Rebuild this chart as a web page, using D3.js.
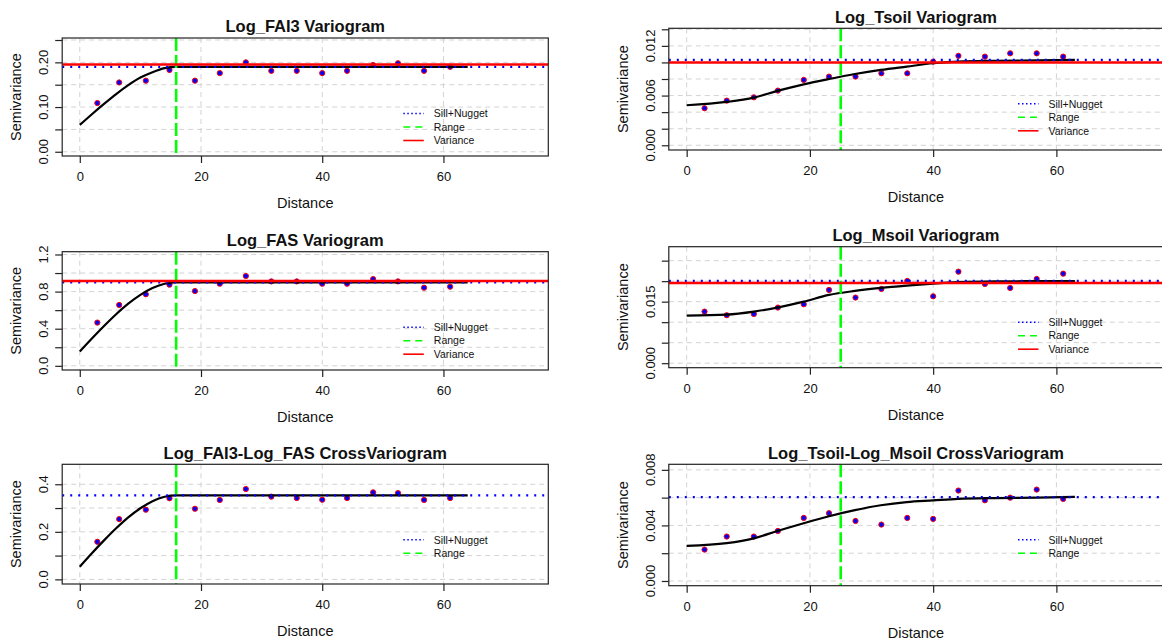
<!DOCTYPE html>
<html><head><meta charset="utf-8">
<script src="https://cdn.jsdelivr.net/npm/d3@7"></script>
<style>
body{margin:0;background:#fff}
svg{display:block}
text{font-family:"Liberation Sans",Arial,sans-serif;fill:#111}
</style>
</head><body>
<svg id="chart" width="1162" height="641"></svg>
<script>
// ---------------- DATA ----------------
const titles = ["Log_FAI3 Variogram","Log_Tsoil Variogram","Log_FAS Variogram","Log_Msoil Variogram","Log_FAI3-Log_FAS CrossVariogram","Log_Tsoil-Log_Msoil CrossVariogram"];
const xTickValues = [0,20,40,60];
const distances = [2.9,6.5,10.9,14.8,19.0,23.1,27.4,31.6,35.8,40.0,44.1,48.4,52.5,56.8,61.1];

const fai3Gamma  = [0.109,0.155,0.159,0.183,0.159,0.176,0.200,0.181,0.181,0.176,0.181,0.194,0.198,0.181,0.190];
const tsoilGamma = [0.00447,0.00539,0.00579,0.00660,0.00789,0.00829,0.00829,0.00869,0.00869,0.01010,0.01080,0.01070,0.01110,0.01110,0.01070];
const fasGamma   = [0.466,0.656,0.771,0.875,0.806,0.885,0.968,0.910,0.910,0.885,0.885,0.935,0.910,0.842,0.853];
const msoilGamma = [0.01258,0.01169,0.01200,0.01356,0.01437,0.01786,0.01600,0.01810,0.02005,0.01631,0.02232,0.01932,0.01834,0.02054,0.02183];
const crossFaGamma = [0.158,0.2535,0.293,0.341,0.297,0.334,0.380,0.348,0.342,0.335,0.342,0.366,0.363,0.334,0.342];
const crossTmGamma = [0.00226,0.00320,0.00320,0.00360,0.00454,0.00488,0.00432,0.00406,0.00454,0.00447,0.00651,0.00581,0.00600,0.00658,0.00591];

// fitted model curves
const curveDistLeft  = [0,2,4,6,8,10,12,14,15.9,64];
const fai3Curve      = [0.060,0.084,0.107,0.129,0.149,0.166,0.178,0.187,0.190,0.190];
const fasCurve       = [0.154,0.294,0.429,0.556,0.670,0.765,0.838,0.885,0.900,0.900];
const crossFaCurve   = [0.0535,0.110,0.164,0.215,0.261,0.299,0.329,0.3475,0.3535,0.3535];
const curveDistRight = [0,6.5,10.9,14.7,19,23.1,27.3,31.5,35.7,40,44,50,57,63];
const tsoilCurve     = [0.00483,0.00523,0.00575,0.00656,0.00736,0.00800,0.00860,0.00910,0.00950,0.00990,0.01010,0.01020,0.01025,0.01030];
const msoilCurve     = [0.01160,0.01185,0.01258,0.01356,0.01500,0.01664,0.01761,0.01834,0.01891,0.01940,0.01975,0.01995,0.02000,0.02003];
const crossTmCurve   = [0.00252,0.00272,0.00307,0.00360,0.00416,0.00466,0.00510,0.00545,0.00568,0.00580,0.00591,0.00597,0.00600,0.00606];

const sillNugget = [0.190,0.0103,0.900,0.02005,0.3535,0.00603];
const rangeVals  = [15.9,25.0,15.9,25.0,15.9,25.0];
const varianceVals = [0.195,0.0100,0.914,0.01956,null,null];

const yTickVals = [
  [0,0.05,0.10,0.15,0.20,0.25],
  [0,0.002,0.004,0.006,0.008,0.010,0.012,0.014],
  [0,0.2,0.4,0.6,0.8,1.0,1.2],
  [0,0.005,0.010,0.015,0.020,0.025],
  [0,0.1,0.2,0.3,0.4],
  [0,0.002,0.004,0.006,0.008]
];
const yLabelVals = [
  ["0.00","0.10","0.20"],
  ["0.000","0.006","0.012"],
  ["0.0","0.4","0.8","1.2"],
  ["0.000","0.015"],
  ["0.0","0.2","0.4"],
  ["0.000","0.004","0.008"]
];
const yDomains = [[-0.0095,0.2545],[-0.00057,0.01412],[-0.045,1.23],[-0.0011,0.0284],[-0.0195,0.484],[-0.00034,0.0084]];
const legendLabels = ["Sill+Nugget","Range","Variance"];

// ---------------- LAYOUT ----------------
const boxes = [
  {l:62.2,r:548.3,t:38,b:156},
  {l:668.8,r:1163,t:28.3,b:150},
  {l:62.2,r:548.3,t:251.7,b:370},
  {l:668.8,r:1163,t:246.7,b:367.7},
  {l:62.2,r:548.3,t:464.3,b:584},
  {l:668.8,r:1163,t:464.3,b:585.7}
];
const xDomain = [-2.9,77.3];
const gammas = [fai3Gamma,tsoilGamma,fasGamma,msoilGamma,crossFaGamma,crossTmGamma];
const curves = [[curveDistLeft,fai3Curve],[curveDistRight,tsoilCurve],[curveDistLeft,fasCurve],[curveDistRight,msoilCurve],[curveDistLeft,crossFaCurve],[curveDistRight,crossTmCurve]];

const svg = d3.select("#chart");
const defs = svg.append("defs");

boxes.forEach((bx,i)=>{
  const x = d3.scaleLinear().domain(xDomain).range([bx.l,bx.r]);
  const y = d3.scaleLinear().domain(yDomains[i]).range([bx.b,bx.t]);
  const g = svg.append("g");
  defs.append("clipPath").attr("id","clip"+i).append("rect")
    .attr("x",bx.l).attr("y",bx.t).attr("width",bx.r-bx.l).attr("height",bx.b-bx.t);
  const inner = g.append("g").attr("clip-path",`url(#clip${i})`);

  // grid
  inner.selectAll(".hg").data(yTickVals[i]).join("line")
    .attr("x1",bx.l).attr("x2",bx.r).attr("y1",d=>y(d)).attr("y2",d=>y(d))
    .attr("stroke","#d3d3d3").attr("stroke-width",1).attr("stroke-dasharray","5,4");
  inner.selectAll(".vg").data(xTickValues).join("line")
    .attr("y1",bx.t).attr("y2",bx.b).attr("x1",d=>x(d)).attr("x2",d=>x(d))
    .attr("stroke","#d3d3d3").attr("stroke-width",1).attr("stroke-dasharray","5,4");

  // points
  inner.selectAll("circle").data(distances.map((d,k)=>[d,gammas[i][k]])).join("circle")
    .attr("cx",d=>x(d[0])).attr("cy",d=>y(d[1])).attr("r",2.6)
    .attr("fill","#0000ff").attr("stroke","#ff0000").attr("stroke-width",1);

  // model curve
  const cv = curves[i][0].map((d,k)=>[d,curves[i][1][k]]);
  inner.append("path").datum(cv)
    .attr("d",d3.line().x(d=>x(d[0])).y(d=>y(d[1])).curve(d3.curveMonotoneX))
    .attr("fill","none").attr("stroke","#000").attr("stroke-width",2.2);

  // sill + nugget
  inner.append("line").attr("x1",bx.l).attr("x2",bx.r)
    .attr("y1",y(sillNugget[i])).attr("y2",y(sillNugget[i]))
    .attr("stroke","#0000ff").attr("stroke-width",2.2).attr("stroke-dasharray","2,6");
  // range
  inner.append("line").attr("y1",bx.t).attr("y2",bx.b)
    .attr("x1",x(rangeVals[i])).attr("x2",x(rangeVals[i]))
    .attr("stroke","#00ff00").attr("stroke-width",2.6).attr("stroke-dasharray","13,4");
  // variance
  if (varianceVals[i]!==null){
    inner.append("line").attr("x1",bx.l).attr("x2",bx.r)
      .attr("y1",y(varianceVals[i])).attr("y2",y(varianceVals[i]))
      .attr("stroke","#ff0000").attr("stroke-width",2.5);
  }

  // box
  g.append("rect").attr("x",bx.l).attr("y",bx.t).attr("width",bx.r-bx.l).attr("height",bx.b-bx.t)
    .attr("fill","none").attr("stroke","#222").attr("stroke-width",1.2);

  // x axis
  const xa = g.append("g").attr("transform",`translate(0,${bx.b})`)
    .call(d3.axisBottom(x).tickValues(xTickValues).tickSize(7).tickPadding(9).tickFormat(d3.format("d")));
  xa.select(".domain").remove();
  xa.selectAll("line").attr("stroke","#222").attr("stroke-width",1.2);
  xa.selectAll("text").attr("font-size",13).attr("fill","#111").style("font-family","'Liberation Sans',Arial,sans-serif");

  // y axis ticks
  const ya = g.append("g").attr("transform",`translate(${bx.l},0)`)
    .call(d3.axisLeft(y).tickValues(yTickVals[i]).tickSize(7).tickFormat(""));
  ya.select(".domain").remove();
  ya.selectAll("line").attr("stroke","#222").attr("stroke-width",1.2);
  // y labels (rotated)
  g.selectAll(".yl").data(yLabelVals[i]).join("text")
    .attr("transform",d=>`translate(${bx.l-18.5},${y(+d)}) rotate(-90)`)
    .attr("text-anchor","middle").attr("dy","0.35em").attr("font-size",13).text(d=>d);

  // titles
  g.append("text").attr("x",(bx.l+bx.r)/2).attr("y",bx.t-11.5).attr("dy","0.36em")
    .attr("text-anchor","middle").attr("font-size",16.5).attr("font-weight","bold").attr("fill","#000").text(titles[i]);
  g.append("text").attr("x",(bx.l+bx.r)/2).attr("y",bx.b+47).attr("dy","0.36em")
    .attr("text-anchor","middle").attr("font-size",14.5).text("Distance");
  g.append("text").attr("transform",`translate(${bx.l-46.5},${(bx.t+bx.b)/2}) rotate(-90)`)
    .attr("dy","0.36em").attr("text-anchor","middle").attr("font-size",14.5).text("Semivariance");

  // legend
  const nRows = varianceVals[i]===null ? 2 : 3;
  const lg = g.append("g");
  const styles = [
    {c:"#0000ff",dash:"1.5,2.5",w:1.6},
    {c:"#00ff00",dash:"7,5",w:1.6},
    {c:"#ff0000",dash:null,w:1.6}
  ];
  legendLabels.slice(0,nRows).forEach((lab,k)=>{
    const ry = bx.t + 75.5 + k*13.5;
    const ln = lg.append("line").attr("x1",bx.r-145).attr("x2",bx.r-124.5).attr("y1",ry).attr("y2",ry)
      .attr("stroke",styles[k].c).attr("stroke-width",styles[k].w);
    if (styles[k].dash) ln.attr("stroke-dasharray",styles[k].dash);
    lg.append("text").attr("x",bx.r-114.5).attr("y",ry).attr("dy","0.36em")
      .attr("font-size",10.5).attr("fill","#222").text(lab);
  });
});
</script>
</body></html>
